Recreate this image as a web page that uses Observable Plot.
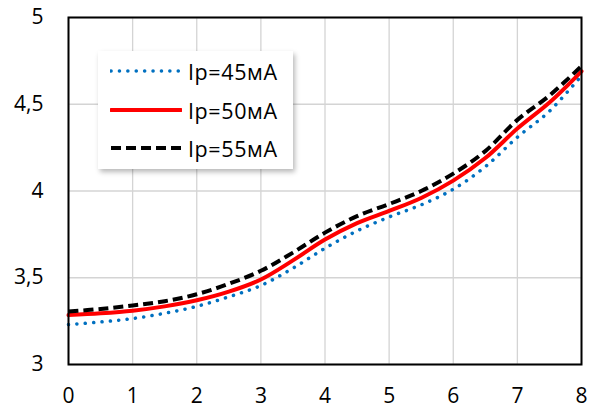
<!DOCTYPE html>
<html><head><meta charset="utf-8">
<script src="https://cdn.jsdelivr.net/npm/d3@7"></script>
<script src="https://cdn.jsdelivr.net/npm/@observablehq/plot@0.6"></script>
<style>
body{margin:0;background:#fff;}
#wrap{position:relative;width:589px;height:412px;font-family:"Open Sans",sans-serif;}
#legend{position:absolute;left:98px;top:51px;width:195px;height:118px;background:#fff;box-shadow:2px 3px 5px rgba(0,0,0,0.28);}
.row{position:absolute;left:0;height:30px;display:flex;align-items:center;}
.row span{font-size:21.5px;color:#000;margin-left:6px;white-space:nowrap;letter-spacing:0.6px;}
</style></head>
<body><div id="wrap"></div>
<script>
const xs    = [0, 0.5, 1, 1.5, 2, 2.5, 3, 3.5, 4, 4.5, 5, 5.5, 6, 6.5, 7, 7.5, 8];
const ip45  = [3.23, 3.245, 3.265, 3.295, 3.335, 3.39, 3.455, 3.555, 3.67, 3.77, 3.85, 3.92, 4.01, 4.14, 4.31, 4.46, 4.665];
const ip50  = [3.285, 3.295, 3.31, 3.335, 3.37, 3.42, 3.49, 3.60, 3.72, 3.815, 3.885, 3.96, 4.06, 4.19, 4.36, 4.51, 4.69];
const ip55  = [3.305, 3.32, 3.34, 3.365, 3.405, 3.465, 3.54, 3.645, 3.76, 3.855, 3.925, 4.0, 4.10, 4.23, 4.41, 4.55, 4.72];
const seriesNames = ["Ip=45мА", "Ip=50мА", "Ip=55мА"];
const xTicks = [0, 1, 2, 3, 4, 5, 6, 7, 8];
const yTicks = [3, 3.5, 4, 4.5, 5];

const styles = [
  {stroke: "#0070C0", strokeWidth: 3.5, strokeDasharray: "0.1,8.3", strokeLinecap: "round"},
  {stroke: "#FF0000", strokeWidth: 4, strokeDasharray: null, strokeLinecap: "round"},
  {stroke: "#000000", strokeWidth: 4, strokeDasharray: "10,5", strokeLinecap: "butt"}
];
const values = [ip45, ip50, ip55];
const data = values.map((vs, i) => xs.map((x, j) => ({x, y: vs[j], s: seriesNames[i]})));

const chart = Plot.plot({
  width: 589, height: 412,
  marginLeft: 68, marginRight: 8, marginTop: 17, marginBottom: 48,
  x: {domain: [0, 8], label: null},
  y: {domain: [3, 5], label: null},
  style: {fontFamily: '"Open Sans", sans-serif', fontSize: "21px", color: "#000", background: "#fff"},
  marks: [
    Plot.gridX(xTicks, {stroke: "#d4d4d4", strokeOpacity: 1, strokeWidth: 1.3}),
    Plot.gridY(yTicks, {stroke: "#d4d4d4", strokeOpacity: 1, strokeWidth: 1.3}),
    Plot.axisX(xTicks, {tickSize: 0, tickPadding: 24, fontSize: 21, label: null, tickFormat: d => String(d)}),
    Plot.axisY(yTicks, {tickSize: 0, tickPadding: 25, fontSize: 21, label: null, tickFormat: d => String(d).replace(".", ",")}),
    ...data.map((d, i) => Plot.line(d, {x: "x", y: "y", curve: "catmull-rom", ...styles[i]})),
    Plot.frame({stroke: "#000", strokeWidth: 2})
  ]
});
const wrap = document.getElementById("wrap");
wrap.appendChild(chart);

const legend = document.createElement("div");
legend.id = "legend";
const rowTops = [5, 44, 82];
seriesNames.forEach((name, i) => {
  const row = document.createElement("div");
  row.className = "row";
  row.style.top = rowTops[i] + "px";
  row.style.left = "12px";
  const st = styles[i];
  row.innerHTML = `<svg width="72" height="30"><line x1="1" y1="15" x2="71" y2="15" stroke="${st.stroke}" stroke-width="${st.strokeWidth}" stroke-linecap="${st.strokeLinecap}" ${st.strokeDasharray ? `stroke-dasharray="${st.strokeDasharray}"` : ""}/></svg><span>${name}</span>`;
  legend.appendChild(row);
});
wrap.appendChild(legend);
</script>
</body></html>
